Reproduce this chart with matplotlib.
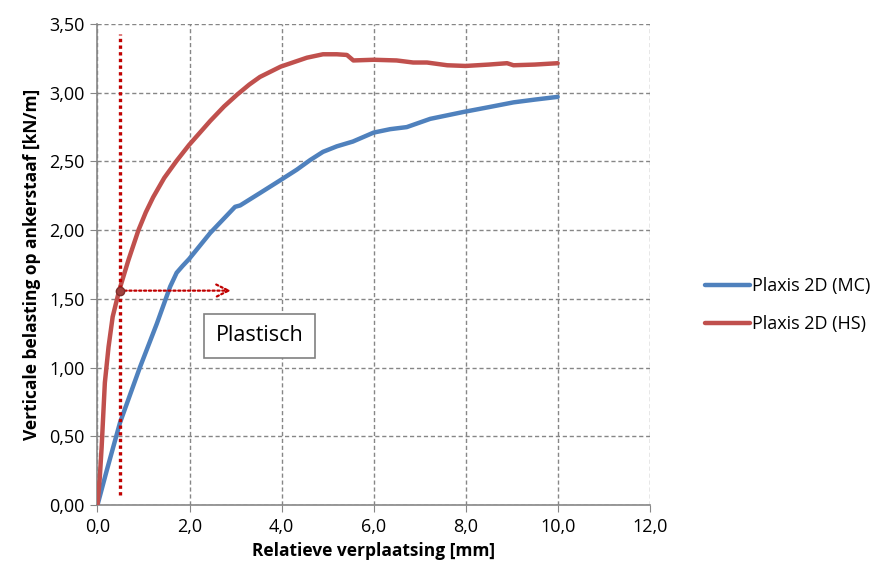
import numpy as np
import matplotlib.pyplot as plt
from matplotlib.ticker import FuncFormatter

# Plaxis 2D (MC)
mc_x = [0.0, 0.2, 0.49, 0.92, 1.29, 1.58, 1.72, 1.85, 1.99, 2.45, 2.99, 3.1, 3.53, 3.98, 4.33, 4.62,
        4.9, 5.2, 5.55, 6.0, 6.36, 6.72, 7.23, 7.95, 8.5, 9.04, 9.5, 10.0]
mc_y = [0.0, 0.25, 0.6, 1.0, 1.32, 1.59, 1.69, 1.74, 1.79, 1.98, 2.17, 2.18, 2.27, 2.365, 2.44, 2.51,
        2.57, 2.61, 2.645, 2.71, 2.735, 2.75, 2.81, 2.86, 2.895, 2.93, 2.95, 2.97]

# Plaxis 2D (HS)
hs_x = [0.0, 0.05, 0.09, 0.16, 0.24, 0.33, 0.47, 0.67, 0.89, 1.05, 1.21, 1.45, 1.72, 1.99, 2.45,
        2.75, 3.03, 3.3, 3.53, 3.98, 4.55, 4.9, 5.2, 5.42, 5.56, 6.0, 6.5, 6.86, 7.16, 7.6, 8.0, 8.5,
        8.9, 9.04, 9.5, 10.0]
hs_y = [0.0, 0.2, 0.42, 0.89, 1.15, 1.37, 1.56, 1.78, 2.0, 2.13, 2.24, 2.38, 2.505, 2.62, 2.795,
        2.9, 2.985, 3.06, 3.115, 3.19, 3.255, 3.28, 3.28, 3.275, 3.235, 3.24, 3.235, 3.22, 3.22, 3.2,
        3.195, 3.205, 3.215, 3.2, 3.205, 3.215]

# plastic point and arrow
plast_x = 0.48
plast_y = 1.56
arrow_end = 2.9

plt.rcParams['font.family'] = ['Open Sans', 'DejaVu Sans']

fig = plt.figure(figsize=(8.72, 5.75), dpi=100)
ax = fig.add_axes([0.1118, 0.1217, 0.6333, 0.8365])

blue = '#4F81BD'
red = '#C0504D'

ax.plot(mc_x, mc_y, color=blue, lw=3.2, label='Plaxis 2D (MC)', solid_capstyle='round',
        solid_joinstyle='round', zorder=3)
ax.plot(hs_x, hs_y, color=red, lw=3.2, label='Plaxis 2D (HS)', solid_capstyle='round',
        solid_joinstyle='round', zorder=3)

# dotted guides
ax.plot([plast_x, plast_x], [0.07, 3.43], color='#C00000', lw=2.4, ls=(0, (1, 1)), zorder=4)
ax.annotate('', xy=(arrow_end, plast_y), xytext=(plast_x, plast_y),
            arrowprops=dict(arrowstyle='->', color='#C00000', lw=1.6, ls=(0, (1, 1.2)),
                            mutation_scale=22, shrinkA=0, shrinkB=0), zorder=4)
ax.plot(plast_x, plast_y, 'o', ms=6, color='#A0413E', mec='#7F2F2C', zorder=5)

ax.text(3.52, 1.23, 'Plastisch', fontsize=15.5, ha='center', va='center',
        bbox=dict(boxstyle='square,pad=0.55', fc='white', ec='#808080', lw=1.2), zorder=6)

ax.set_xlim(0, 12)
ax.set_ylim(0, 3.5)
ax.set_xticks(np.arange(0, 12.1, 2))
ax.set_yticks(np.arange(0, 3.51, 0.5))
ax.xaxis.set_major_formatter(FuncFormatter(lambda v, p: f'{v:.1f}'.replace('.', ',')))
ax.yaxis.set_major_formatter(FuncFormatter(lambda v, p: f'{v:.2f}'.replace('.', ',')))
ax.tick_params(labelsize=13, color='#868686', length=5, pad=4)

ax.grid(True, color='#868686', ls=(0, (3, 2)), lw=1)
ax.set_axisbelow(True)
for s in ['top', 'right']:
    ax.spines[s].set_visible(False)
for s in ['left', 'bottom']:
    ax.spines[s].set_color('#868686')
    ax.spines[s].set_linewidth(1.2)

ax.set_xlabel('Relatieve verplaatsing [mm]', fontsize=12.5, fontweight='bold', labelpad=5)
ax.set_ylabel('Verticale belasting op ankerstaaf [kN/m]', fontsize=12.5, fontweight='bold', labelpad=6)

ax.legend(loc='center left', bbox_to_anchor=(1.07, 0.415), frameon=False, fontsize=13,
          handlelength=2.5, handletextpad=0.1, labelspacing=1.1)

fig.savefig('out.png', dpi=100)
